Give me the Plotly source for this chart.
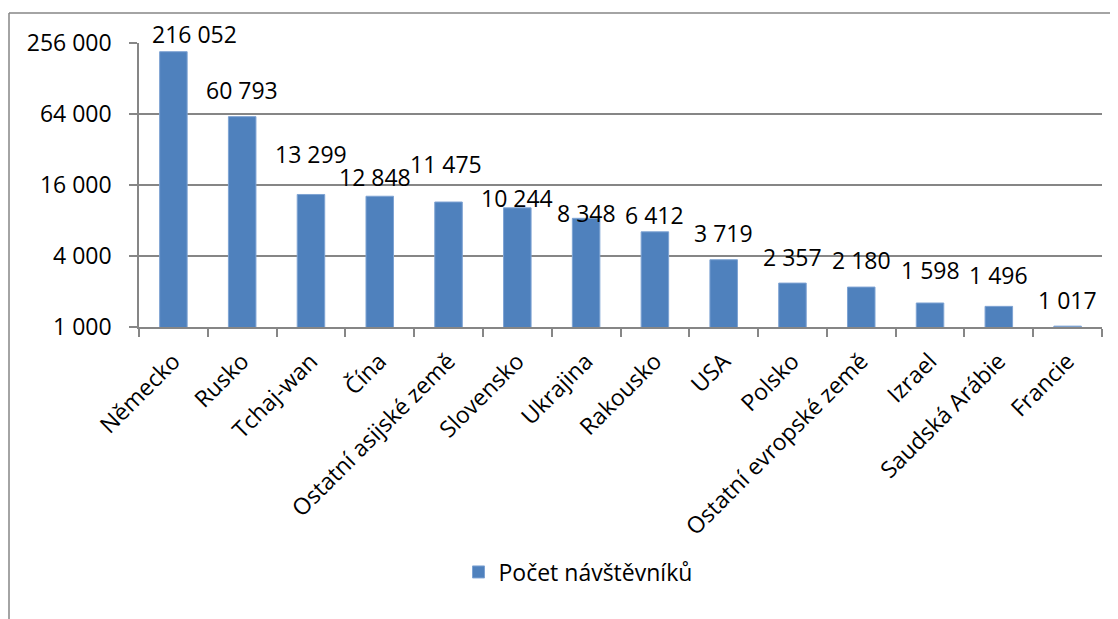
import math
import plotly.graph_objects as go

categories = ["Německo", "Rusko", "Tchaj-wan", "Čína", "Ostatní asijské země", "Slovensko",
              "Ukrajina", "Rakousko", "USA", "Polsko", "Ostatní evropské země", "Izrael",
              "Saudská Arábie", "Francie"]
visitors = [216052, 60793, 13299, 12848, 11475, 10244, 8348, 6412, 3719, 2357, 2180, 1598, 1496, 1017]
series_name = "Počet návštěvníků"
y_ticks = [1000, 4000, 16000, 64000, 256000]

# label offsets (pixels) relative to bar top, as placed in the original chart
label_dx = [21, 0, 0, -5, -3, 0, 0, 0, 0, 0, 0, 0, 0, 0]
label_dy = [18, 27, 40, 19, 38, 10, 5, 17, 27, 26, 27, 33, 31, 26]

def fmt(v):
    return f"{v:,}".replace(",", " ")

FONT = "Open Sans"
GRID = "#868686"

fig = go.Figure()
fig.add_trace(go.Bar(
    x=categories, y=visitors, name=series_name,
    marker=dict(color="#4F81BD", line=dict(color="#7EA3D3", width=1)),
    showlegend=True,
))

annotations = []
for c, v, dx, dy in zip(categories, visitors, label_dx, label_dy):
    annotations.append(dict(
        x=c, y=math.log10(v), xref="x", yref="y", text=fmt(v), showarrow=False,
        xanchor="center", yanchor="middle", xshift=dx, yshift=dy,
        font=dict(family=FONT, size=23, color="#000000"),
    ))

# page body has an 8px margin; plot area placed to match reference
L, R, T, B = 131, 24, 35, 300
W, H = 1118, 619
pw, ph = 963, 284
PL, PT = 139, 43  # plot area origin on page

def px(xp):
    return (xp - PL) / pw

def py(yp):
    return (PT + ph - yp) / ph

fig.update_layout(
    width=W, height=H,
    margin=dict(l=L, r=R, t=T, b=B, autoexpand=False),
    paper_bgcolor="white", plot_bgcolor="white",
    font=dict(family=FONT, size=23, color="#000000"),
    bargap=0.6,
    showlegend=True,
    annotations=annotations,
    legend=dict(x=px(578), y=py(572), xanchor="center", yanchor="middle",
                orientation="h", font=dict(family=FONT, size=23), itemwidth=30),
    xaxis=dict(tickangle=-45, showline=True, linecolor=GRID, linewidth=1.5,
               ticks="outside", ticklen=8, tickcolor=GRID, tickwidth=1.5,
               tickson="boundaries", showgrid=False, automargin=False,
               ticklabelstandoff=10,
               tickfont=dict(family=FONT, size=23)),
    yaxis=dict(type="log", range=[3, math.log10(256000)], tickvals=y_ticks,
               ticktext=[fmt(v) for v in y_ticks], automargin=False,
               showgrid=True, gridcolor=GRID, gridwidth=1.5,
               showline=True, linecolor=GRID, linewidth=1.5,
               ticks="outside", ticklen=8, tickcolor=GRID, tickwidth=1.5,
               ticklabelstandoff=13,
               tickfont=dict(family=FONT, size=23), zeroline=False),
    shapes=[
        dict(type="line", xref="paper", yref="paper",
             x0=px(9), x1=px(9), y0=py(13), y1=py(660),
             line=dict(color="#868686", width=1.5)),
        dict(type="line", xref="paper", yref="paper",
             x0=px(9), x1=px(1140), y0=py(13), y1=py(13),
             line=dict(color="#868686", width=1.5)),
    ],
)

fig.write_html("out.html")
